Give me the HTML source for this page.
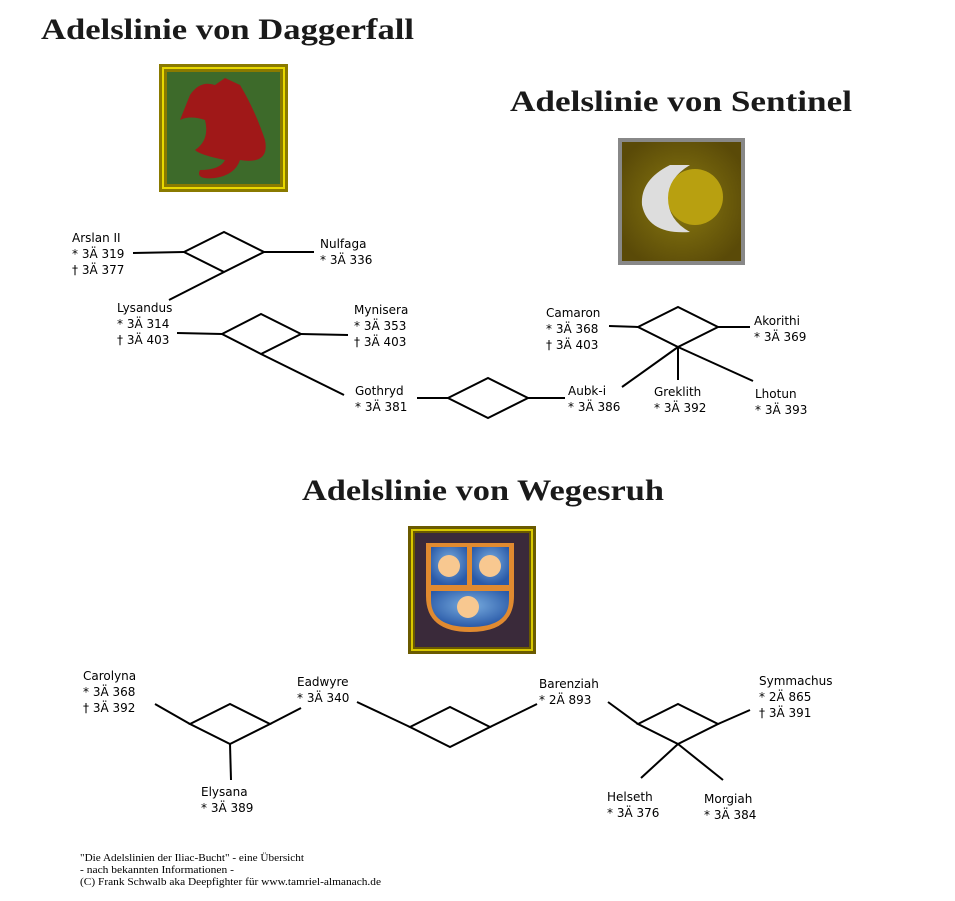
<!DOCTYPE html>
<html><head><meta charset="utf-8"><style>
body{margin:0;background:#fff;}
svg{display:block}
.t{font-family:"Liberation Serif",serif;font-weight:bold;font-size:30px;fill:#1a1a1a}
.n{font-family:"DejaVu Sans","Liberation Sans",sans-serif;font-size:12px;fill:#000}
.f{font-family:"Liberation Serif",serif;font-size:10px;fill:#000}
line,polygon.d{stroke:#000;stroke-width:2;fill:none}
</style></head><body>
<svg width="955" height="901" viewBox="0 0 955 901" xmlns="http://www.w3.org/2000/svg">
<defs>
<radialGradient id="mg" cx="50%" cy="50%" r="60%"><stop offset="0" stop-color="#8a7a10"/><stop offset="1" stop-color="#5a4a08"/></radialGradient>
<radialGradient id="bl" cx="50%" cy="40%" r="60%"><stop offset="0" stop-color="#7aaee0"/><stop offset="1" stop-color="#2a5aa8"/></radialGradient>
</defs>
<text class="t" x="41" y="39" textLength="373" lengthAdjust="spacingAndGlyphs">Adelslinie von Daggerfall</text>
<text class="t" x="510" y="111" textLength="342" lengthAdjust="spacingAndGlyphs">Adelslinie von Sentinel</text>
<text class="t" x="302" y="500" textLength="362" lengthAdjust="spacingAndGlyphs">Adelslinie von Wegesruh</text>

<!-- Daggerfall emblem -->
<rect x="159" y="64" width="129" height="128" fill="#8a7a00"/>
<rect x="163" y="68" width="121" height="120" fill="none" stroke="#e8d800" stroke-width="2"/>
<rect x="167" y="72" width="113" height="112" fill="#3d6a2a"/>
<path d="M190 95 Q200 80 215 85 L225 78 L240 85 Q255 110 265 140 Q270 165 240 160 Q235 175 215 178 Q195 180 200 170 Q220 170 225 160 Q200 155 195 150 Q210 140 205 120 Q190 115 180 120 Z" fill="#a01818"/>

<!-- Sentinel emblem -->
<rect x="618" y="138" width="127" height="127" fill="#888"/>
<rect x="622" y="142" width="119" height="119" fill="url(#mg)"/>
<circle cx="695" cy="197" r="28" fill="#b8a010"/>
<path d="M670 165 Q640 180 642 205 Q648 235 690 232 Q668 220 668 198 Q668 178 690 165 Z" fill="#ddd"/>

<!-- Wegesruh emblem -->
<rect x="408" y="526" width="128" height="128" fill="#6a5a00"/>
<rect x="412" y="530" width="120" height="120" fill="none" stroke="#d8c800" stroke-width="2"/>
<rect x="415" y="533" width="114" height="114" fill="#3a2a3a"/>
<path d="M426 543 H514 V596 Q514 632 470 632 Q426 632 426 596 Z" fill="#e08a30"/>
<rect x="431" y="547" width="36" height="38" fill="url(#bl)"/>
<rect x="472" y="547" width="37" height="38" fill="url(#bl)"/>
<path d="M431 591 H509 V600 Q509 627 470 627 Q431 627 431 600 Z" fill="url(#bl)"/>
<circle cx="449" cy="566" r="11" fill="#f8c890"/>
<circle cx="490" cy="566" r="11" fill="#f8c890"/>
<circle cx="468" cy="607" r="11" fill="#f8c890"/>

<!-- Daggerfall lines -->
<line x1="133" y1="253" x2="184" y2="252"/>
<polygon class="d" points="184,252 224,232 264,252 224,272"/>
<line x1="264" y1="252" x2="314" y2="252"/>
<line x1="224" y1="272" x2="169" y2="300"/>
<line x1="177" y1="333" x2="222" y2="334"/>
<polygon class="d" points="222,334 261,314 301,334 261,354"/>
<line x1="301" y1="334" x2="348" y2="335"/>
<line x1="261" y1="354" x2="344" y2="395"/>
<line x1="417" y1="398" x2="448" y2="398"/>
<polygon class="d" points="448,398 488,378 528,398 488,418"/>
<line x1="528" y1="398" x2="565" y2="398"/>

<!-- Sentinel lines -->
<line x1="609" y1="326" x2="638" y2="327"/>
<polygon class="d" points="638,327 678,307 718,327 678,347"/>
<line x1="718" y1="327" x2="750" y2="327"/>
<line x1="678" y1="347" x2="622" y2="387"/>
<line x1="678" y1="347" x2="678" y2="380"/>
<line x1="678" y1="347" x2="753" y2="381"/>

<!-- Wegesruh lines -->
<line x1="155" y1="704" x2="190" y2="724"/>
<polygon class="d" points="190,724 230,704 270,724 230,744"/>
<line x1="270" y1="724" x2="301" y2="708"/>
<line x1="230" y1="744" x2="231" y2="780"/>
<line x1="357" y1="702" x2="410" y2="727"/>
<polygon class="d" points="410,727 450,707 490,727 450,747"/>
<line x1="490" y1="727" x2="537" y2="704"/>
<line x1="608" y1="702" x2="638" y2="724"/>
<polygon class="d" points="638,724 678,704 718,724 678,744"/>
<line x1="718" y1="724" x2="750" y2="710"/>
<line x1="678" y1="744" x2="641" y2="778"/>
<line x1="678" y1="744" x2="723" y2="780"/>

<!-- Labels -->
<text class="n" x="72" y="242">Arslan II</text><text class="n" x="72" y="258">* 3Ä 319</text><text class="n" x="72" y="274">† 3Ä 377</text>
<text class="n" x="320" y="248">Nulfaga</text><text class="n" x="320" y="264">* 3Ä 336</text>
<text class="n" x="117" y="312">Lysandus</text><text class="n" x="117" y="328">* 3Ä 314</text><text class="n" x="117" y="344">† 3Ä 403</text>
<text class="n" x="354" y="314">Mynisera</text><text class="n" x="354" y="330">* 3Ä 353</text><text class="n" x="354" y="346">† 3Ä 403</text>
<text class="n" x="355" y="395">Gothryd</text><text class="n" x="355" y="411">* 3Ä 381</text>
<text class="n" x="546" y="317">Camaron</text><text class="n" x="546" y="333">* 3Ä 368</text><text class="n" x="546" y="349">† 3Ä 403</text>
<text class="n" x="754" y="325">Akorithi</text><text class="n" x="754" y="341">* 3Ä 369</text>
<text class="n" x="568" y="395">Aubk-i</text><text class="n" x="568" y="411">* 3Ä 386</text>
<text class="n" x="654" y="396">Greklith</text><text class="n" x="654" y="412">* 3Ä 392</text>
<text class="n" x="755" y="398">Lhotun</text><text class="n" x="755" y="414">* 3Ä 393</text>

<text class="n" x="83" y="680">Carolyna</text><text class="n" x="83" y="696">* 3Ä 368</text><text class="n" x="83" y="712">† 3Ä 392</text>
<text class="n" x="297" y="686">Eadwyre</text><text class="n" x="297" y="702">* 3Ä 340</text>
<text class="n" x="539" y="688">Barenziah</text><text class="n" x="539" y="704">* 2Ä 893</text>
<text class="n" x="759" y="685">Symmachus</text><text class="n" x="759" y="701">* 2Ä 865</text><text class="n" x="759" y="717">† 3Ä 391</text>
<text class="n" x="201" y="796">Elysana</text><text class="n" x="201" y="812">* 3Ä 389</text>
<text class="n" x="607" y="801">Helseth</text><text class="n" x="607" y="817">* 3Ä 376</text>
<text class="n" x="704" y="803">Morgiah</text><text class="n" x="704" y="819">* 3Ä 384</text>

<text class="f" x="80" y="861" textLength="224" lengthAdjust="spacingAndGlyphs">"Die Adelslinien der Iliac-Bucht" - eine Übersicht</text>
<text class="f" x="80" y="873" textLength="154" lengthAdjust="spacingAndGlyphs">- nach bekannten Informationen -</text>
<text class="f" x="80" y="885" textLength="301" lengthAdjust="spacingAndGlyphs">(C) Frank Schwalb aka Deepfighter für www.tamriel-almanach.de</text>
</svg>
</body></html>
